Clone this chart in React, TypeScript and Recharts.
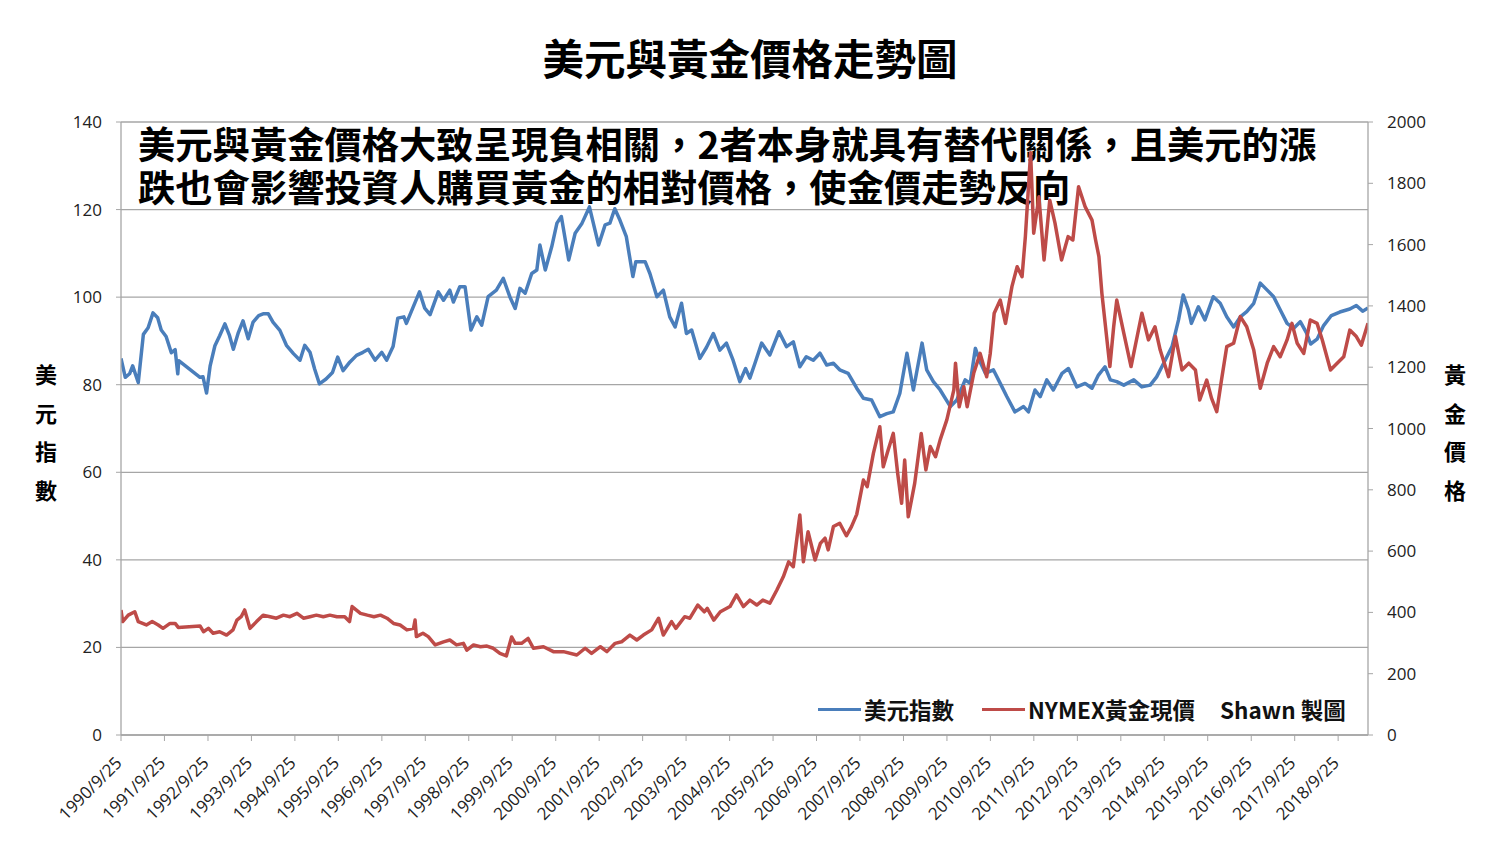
import { LineChart, Line, XAxis, YAxis, CartesianGrid } from "recharts";

// 美元指數 (left axis)
const usdDates = [
  "1990/9/25", "1990/10/31", "1990/12/6", "1991/1/1", "1991/2/17", "1991/4/1", "1991/5/11", "1991/6/21",
  "1991/7/30", "1991/8/29", "1991/10/9", "1991/11/22", "1991/12/24", "1992/1/15", "1992/1/23", "1992/7/20",
  "1992/8/14", "1992/9/13", "1992/10/13", "1992/11/22", "1993/1/1", "1993/2/14", "1993/3/25", "1993/4/26",
  "1993/6/7", "1993/7/16", "1993/8/29", "1993/10/9", "1993/11/25", "1994/1/1", "1994/2/14", "1994/3/25",
  "1994/5/22", "1994/7/16", "1994/9/13", "1994/11/7", "1994/12/17", "1995/1/30", "1995/3/10", "1995/4/19",
  "1995/6/14", "1995/8/7", "1995/9/20", "1995/11/4", "1996/1/1", "1996/2/25", "1996/4/19", "1996/6/3",
  "1996/7/30", "1996/9/24", "1996/11/4", "1996/12/28", "1997/2/6", "1997/3/29", "1997/4/19", "1997/8/7",
  "1997/9/20", "1997/11/4", "1998/1/12", "1998/2/25", "1998/4/19", "1998/5/19", "1998/7/12", "1998/8/25",
  "1998/10/13", "1998/12/2", "1999/1/12", "1999/3/7", "1999/5/15", "1999/7/12", "1999/9/5", "1999/10/20",
  "1999/11/29", "2000/1/12", "2000/3/7", "2000/4/19", "2000/5/15", "2000/6/29", "2000/8/22", "2000/10/5",
  "2000/11/11", "2001/1/12", "2001/3/7", "2001/5/4", "2001/7/5", "2001/9/20", "2001/11/14", "2001/12/24",
  "2002/2/3", "2002/3/18", "2002/5/11", "2002/7/5", "2002/7/30", "2002/10/16", "2002/11/25", "2003/1/23",
  "2003/3/18", "2003/5/11", "2003/6/25", "2003/8/18", "2003/9/28", "2003/11/11", "2004/1/19", "2004/3/14",
  "2004/5/11", "2004/7/5", "2004/8/29", "2004/10/24", "2004/12/20", "2005/2/6", "2005/3/14", "2005/4/26",
  "2005/6/21", "2005/8/29", "2005/11/14", "2006/1/16", "2006/3/14", "2006/5/8", "2006/7/1", "2006/8/29",
  "2006/10/24", "2006/12/20", "2007/2/14", "2007/4/8", "2007/6/18", "2007/8/29", "2007/10/24", "2008/1/1",
  "2008/3/10", "2008/5/8", "2008/7/1", "2008/8/25", "2008/10/24", "2008/12/17", "2009/2/28", "2009/4/8",
  "2009/6/3", "2009/7/30", "2009/10/24", "2009/12/17", "2010/2/25", "2010/4/8", "2010/5/22", "2010/7/1",
  "2010/8/14", "2010/10/20", "2010/12/17", "2011/2/10", "2011/4/19", "2011/7/1", "2011/8/11", "2011/10/5",
  "2011/11/18", "2012/1/12", "2012/3/7", "2012/5/19", "2012/7/12", "2012/9/20", "2012/11/29", "2013/1/26",
  "2013/3/21", "2013/5/15", "2013/6/29", "2013/8/22", "2013/10/20", "2014/1/12", "2014/3/21", "2014/5/30",
  "2014/7/23", "2014/9/20", "2014/11/29", "2015/1/23", "2015/3/3", "2015/4/16", "2015/5/11", "2015/7/9",
  "2015/9/2", "2015/11/11", "2016/1/8", "2016/3/3", "2016/4/30", "2016/6/25", "2016/8/18", "2016/10/16",
  "2016/12/10", "2017/2/6", "2017/4/1", "2017/5/26", "2017/7/23", "2017/9/17", "2017/11/11", "2018/1/1",
  "2018/2/6", "2018/4/1", "2018/5/26", "2018/7/30", "2018/10/9", "2019/1/1", "2019/2/25", "2019/4/19",
  "2019/6/3",
];
const usdValues = [
  86.0, 81.7, 82.5, 84.3, 80.5, 91.5, 93.0, 96.4,
  95.3, 92.5, 91.0, 87.3, 88.0, 82.5, 85.5, 81.7,
  81.8, 78.1, 84.3, 88.9, 91.2, 93.9, 91.2, 88.1,
  91.9, 94.6, 90.5, 94.3, 95.8, 96.2, 96.2, 94.3,
  92.4, 89.0, 87.1, 85.6, 89.0, 87.4, 83.6, 80.2,
  81.3, 82.8, 86.3, 83.2, 85.2, 86.7, 87.4, 88.1,
  85.6, 87.4, 85.6, 88.7, 95.2, 95.5, 94.0, 101.2,
  97.5, 96.0, 101.2, 99.3, 101.6, 98.9, 102.4, 102.4,
  92.5, 95.5, 93.6, 100.1, 101.6, 104.3, 100.1, 97.4,
  102.0, 100.9, 105.4, 106.2, 111.9, 106.2, 111.5, 116.9,
  118.4, 108.5, 114.6, 116.9, 120.6, 111.9, 116.5, 116.9,
  120.2, 117.6, 113.8, 104.7, 108.1, 108.1, 105.4, 100.1,
  101.6, 95.5, 93.2, 98.6, 91.7, 92.5, 86.0, 88.5,
  91.7, 87.9, 89.5, 85.6, 80.7, 83.7, 81.5, 84.9,
  89.5, 86.8, 92.1, 88.7, 89.8, 84.1, 86.4, 85.6,
  87.2, 84.5, 84.9, 83.4, 82.6, 79.2, 76.9, 76.5,
  72.7, 73.4, 73.8, 78.0, 87.2, 78.8, 89.5, 83.4,
  80.7, 78.8, 75.0, 76.5, 81.1, 80.3, 88.3, 85.2,
  82.6, 83.4, 80.3, 77.3, 73.8, 75.0, 73.8, 78.8,
  77.3, 81.1, 78.8, 82.6, 83.7, 79.5, 80.3, 79.2,
  82.2, 84.1, 81.1, 80.7, 79.9, 81.1, 79.5, 79.9,
  81.8, 84.9, 88.7, 94.8, 100.5, 97.1, 94.0, 97.8,
  94.8, 100.1, 98.6, 95.5, 93.2, 95.5, 96.7, 98.6,
  103.2, 101.6, 100.1, 97.1, 94.0, 92.9, 94.4, 91.9,
  89.3, 90.4, 93.5, 95.8, 96.6, 97.3, 98.1, 96.8,
  97.5,
];

// NYMEX黃金現價 (right axis)
const goldDates = [
  "1990/9/25", "1990/10/9", "1990/11/25", "1991/1/19", "1991/2/17", "1991/4/26", "1991/6/14", "1991/8/4",
  "1991/9/13", "1991/11/11", "1991/12/24", "1992/1/19", "1992/7/20", "1992/8/18", "1992/9/28", "1992/11/7",
  "1993/1/1", "1993/2/28", "1993/4/23", "1993/5/26", "1993/7/1", "1993/7/30", "1993/9/13", "1993/11/7",
  "1994/1/1", "1994/2/28", "1994/4/23", "1994/6/21", "1994/8/14", "1994/10/13", "1994/12/6", "1995/1/30",
  "1995/3/25", "1995/5/22", "1995/7/16", "1995/9/13", "1995/11/18", "1995/12/28", "1996/1/19", "1996/3/29",
  "1996/5/26", "1996/7/20", "1996/9/13", "1996/11/7", "1997/1/1", "1997/2/25", "1997/4/23", "1997/6/18",
  "1997/7/1", "1997/7/12", "1997/9/5", "1997/10/20", "1997/12/17", "1998/2/25", "1998/4/19", "1998/6/14",
  "1998/8/11", "1998/9/9", "1998/11/4", "1999/1/1", "1999/2/25", "1999/4/19", "1999/6/14", "1999/8/7",
  "1999/9/20", "1999/10/20", "1999/12/13", "2000/2/6", "2000/3/21", "2000/6/14", "2000/9/5", "2000/11/29",
  "2001/3/21", "2001/5/30", "2001/7/23", "2001/10/5", "2001/11/29", "2002/2/6", "2002/4/1", "2002/6/10",
  "2002/8/7", "2002/10/1", "2002/12/10", "2003/2/6", "2003/3/18", "2003/5/26", "2003/7/1", "2003/9/13",
  "2003/10/27", "2004/1/1", "2004/2/25", "2004/3/21", "2004/5/15", "2004/7/9", "2004/9/28", "2004/11/22",
  "2005/1/19", "2005/3/14", "2005/5/11", "2005/7/1", "2005/8/29", "2005/10/27", "2005/12/20", "2006/2/3",
  "2006/3/14", "2006/5/8", "2006/6/7", "2006/7/16", "2006/9/13", "2006/10/27", "2006/12/6", "2007/1/1",
  "2007/2/14", "2007/4/8", "2007/6/3", "2007/7/16", "2007/8/29", "2007/10/24", "2007/11/25", "2008/1/16",
  "2008/3/10", "2008/4/8", "2008/5/19", "2008/7/1", "2008/8/7", "2008/9/9", "2008/10/5", "2008/11/4",
  "2008/12/28", "2009/2/21", "2009/4/1", "2009/5/8", "2009/6/21", "2009/7/30", "2009/9/24", "2009/11/22",
  "2009/12/6", "2010/1/6", "2010/2/14", "2010/3/14", "2010/5/8", "2010/7/1", "2010/8/25", "2010/9/24",
  "2010/10/27", "2010/12/17", "2011/1/30", "2011/3/25", "2011/5/8", "2011/6/18", "2011/7/16", "2011/8/29",
  "2011/9/24", "2011/11/7", "2011/12/20", "2012/2/6", "2012/3/21", "2012/5/15", "2012/7/9", "2012/8/18",
  "2012/10/5", "2012/11/29", "2013/1/26", "2013/2/25", "2013/3/25", "2013/4/19", "2013/6/25", "2013/7/27",
  "2013/8/22", "2013/10/20", "2013/12/20", "2014/3/21", "2014/5/15", "2014/7/9", "2014/8/22", "2014/10/31",
  "2014/12/28", "2015/2/21", "2015/4/19", "2015/6/14", "2015/7/20", "2015/9/17", "2015/10/27", "2015/12/10",
  "2016/1/19", "2016/3/3", "2016/4/30", "2016/6/25", "2016/8/18", "2016/10/16", "2016/12/10", "2017/2/6",
  "2017/4/1", "2017/5/26", "2017/7/23", "2017/9/2", "2017/10/16", "2017/12/10", "2018/2/3", "2018/4/1",
  "2018/5/15", "2018/7/23", "2018/9/17", "2018/11/11", "2019/1/1", "2019/2/25", "2019/4/8", "2019/6/3",
];
const goldValues = [
  408, 370, 391, 402, 370, 359, 370, 359,
  348, 364, 364, 351, 356, 337, 348, 332,
  337, 326, 343, 375, 386, 408, 348, 370,
  391, 386, 381, 391, 386, 397, 381, 386,
  391, 386, 391, 386, 386, 370, 419, 397,
  391, 386, 391, 381, 364, 359, 343, 348,
  375, 321, 332, 321, 294, 304, 310, 294,
  299, 277, 294, 288, 290, 283, 266, 258,
  320, 299, 299, 315, 283, 288, 272, 272,
  261, 283, 266, 288, 272, 299, 304, 326,
  310, 326, 343, 381, 326, 370, 348, 386,
  381, 424, 402, 413, 375, 402, 419, 457,
  419, 440, 424, 440, 430, 473, 516, 565,
  549, 718, 565, 663, 571, 625, 642, 604,
  680, 691, 650, 680, 720, 832, 810, 919,
  1006, 875, 930, 984, 854, 756, 897, 712,
  821, 984, 865, 941, 908, 963, 1028, 1126,
  1213, 1071, 1136, 1071, 1180, 1245, 1169, 1245,
  1376, 1419, 1343, 1463, 1528, 1495, 1626, 1900,
  1637, 1756, 1550, 1745, 1670, 1550, 1626, 1615,
  1789, 1724, 1680, 1615, 1561, 1441, 1202, 1332,
  1419, 1311, 1202, 1376, 1289, 1332, 1256, 1169,
  1300, 1191, 1213, 1191, 1093, 1158, 1099, 1055,
  1158, 1267, 1278, 1365, 1332, 1256, 1131, 1213,
  1267, 1234, 1289, 1343, 1278, 1245, 1354, 1343,
  1289, 1191, 1213, 1234, 1321, 1300, 1272, 1343,
];

const xTickLabels = [
  "1990/9/25", "1991/9/25", "1992/9/25", "1993/9/25", "1994/9/25", "1995/9/25", "1996/9/25",
  "1997/9/25", "1998/9/25", "1999/9/25", "2000/9/25", "2001/9/25", "2002/9/25", "2003/9/25",
  "2004/9/25", "2005/9/25", "2006/9/25", "2007/9/25", "2008/9/25", "2009/9/25", "2010/9/25",
  "2011/9/25", "2012/9/25", "2013/9/25", "2014/9/25", "2015/9/25", "2016/9/25", "2017/9/25",
  "2018/9/25",
];
const xEndDate = "2019/6/3";
const leftTicks = [0, 20, 40, 60, 80, 100, 120, 140];
const rightTicks = [0, 200, 400, 600, 800, 1000, 1200, 1400, 1600, 1800, 2000];

const toTime = (s: string) => {
  const [y, m, d] = s.split("/").map(Number);
  return Date.UTC(y, m - 1, d);
};

const usdData = usdDates.map((d, i) => ({ t: toTime(d), v: usdValues[i] }));
const goldData = goldDates.map((d, i) => ({ t: toTime(d), v: goldValues[i] }));
const xTicks = xTickLabels.map(toTime);

const BLUE = "#4A7EBB";
const RED = "#BE4B48";
const GRID = "#a6a6a6";
const CJK = "'Noto Sans CJK TC', 'Noto Sans', sans-serif";
const NUM = "'Open Sans', 'Noto Sans', sans-serif";

const DateTick = ({ x, y, payload }: any) => {
  const idx = xTicks.indexOf(payload.value);
  const tx = x + 2;
  const ty = y + 21;
  return (
    <text x={tx} y={ty} transform={`rotate(-45, ${tx}, ${ty})`} textAnchor="end" fontSize={17} fill="#222" fontFamily={NUM}>
      {idx >= 0 ? xTickLabels[idx] : ""}
    </text>
  );
};

const legendItems = [
  { name: "美元指數", color: BLUE },
  { name: "NYMEX黃金現價", color: RED },
];

const ChartLegend = () => (
  <div style={{ position: "absolute", left: 818, top: 694, display: "flex", alignItems: "center", fontFamily: CJK, fontWeight: 700, fontSize: 22.5, lineHeight: "30px", color: "#111", whiteSpace: "nowrap" }}>
    {legendItems.map((it, i) => (
      <span key={it.name} style={{ display: "flex", alignItems: "center", marginLeft: i === 0 ? 0 : 28 }}>
        <span style={{ display: "inline-block", width: 43, height: 3, background: it.color, marginRight: 3 }} />
        <span>{it.name}</span>
      </span>
    ))}
    <span style={{ marginLeft: 25 }}>Shawn 製圖</span>
  </div>
);

export default function App() {
  return (
    <div style={{ position: "absolute", left: 0, top: 0, width: 1500, height: 865, background: "#fff" }}>
      <div style={{ position: "absolute", left: 0, width: 1500, top: 37, textAlign: "center", fontFamily: CJK, fontWeight: 700, fontSize: 41.5, lineHeight: "41px", color: "#000" }}>
        美元與黃金價格走勢圖
      </div>
      <div style={{ position: "absolute", left: 138, top: 122, fontFamily: CJK, fontWeight: 700, fontSize: 37.3, lineHeight: "43px", color: "#000", whiteSpace: "nowrap" }}>
        <div>美元與黃金價格大致呈現負相關，2者本身就具有替代關係，且美元的漲</div>
        <div>跌也會影響投資人購買黃金的相對價格，使金價走勢反向</div>
      </div>
      <div style={{ position: "absolute", left: 30, width: 32, top: 354, textAlign: "center", fontFamily: CJK, fontWeight: 700, fontSize: 22, lineHeight: "38.5px", color: "#000" }}>
        <div>美</div><div>元</div><div>指</div><div>數</div>
      </div>
      <div style={{ position: "absolute", left: 1439, width: 32, top: 354, textAlign: "center", fontFamily: CJK, fontWeight: 700, fontSize: 22, lineHeight: "38.5px", color: "#000" }}>
        <div>黃</div><div>金</div><div>價</div><div>格</div>
      </div>
      <div style={{ position: "absolute", left: 0, top: 0 }}>
        <LineChart width={1500} height={865} margin={{ top: 122, right: 80, bottom: 30, left: 60 }}>
          <CartesianGrid yAxisId="left" horizontal vertical={false} stroke={GRID} strokeWidth={1.3} />
          <XAxis
            type="number"
            dataKey="t"
            domain={[xTicks[0], toTime(xEndDate)]}
            ticks={xTicks}
            interval={0}
            allowDataOverflow
            height={100}
            tickSize={6}
            stroke={GRID}
            tickLine={{ stroke: GRID }}
            axisLine={{ stroke: GRID, strokeWidth: 1.3 }}
            tick={<DateTick />}
          />
          <YAxis
            yAxisId="left"
            domain={[0, 140]}
            ticks={leftTicks}
            interval={0}
            width={61}
            tickSize={5}
            tickMargin={14}
            axisLine={{ stroke: GRID, strokeWidth: 1.3 }}
            tickLine={{ stroke: GRID }}
            tick={{ fontSize: 17, fill: "#222", fontFamily: NUM }}
          />
          <YAxis
            yAxisId="right"
            orientation="right"
            domain={[0, 2000]}
            ticks={rightTicks}
            interval={0}
            width={52}
            tickSize={5}
            tickMargin={14}
            axisLine={{ stroke: GRID, strokeWidth: 1.3 }}
            tickLine={{ stroke: GRID }}
            tick={{ fontSize: 17, fill: "#222", fontFamily: NUM, textAnchor: "start" }}
          />
          <Line
            yAxisId="left"
            data={usdData}
            dataKey="v"
            name="美元指數"
            type="linear"
            stroke={BLUE}
            strokeWidth={3.5}
            strokeLinejoin="round"
            dot={false}
            isAnimationActive={false}
          />
          <Line
            yAxisId="right"
            data={goldData}
            dataKey="v"
            name="NYMEX黃金現價"
            type="linear"
            stroke={RED}
            strokeWidth={3.5}
            strokeLinejoin="round"
            dot={false}
            isAnimationActive={false}
          />
        </LineChart>
      </div>
      <ChartLegend />
    </div>
  );
}
